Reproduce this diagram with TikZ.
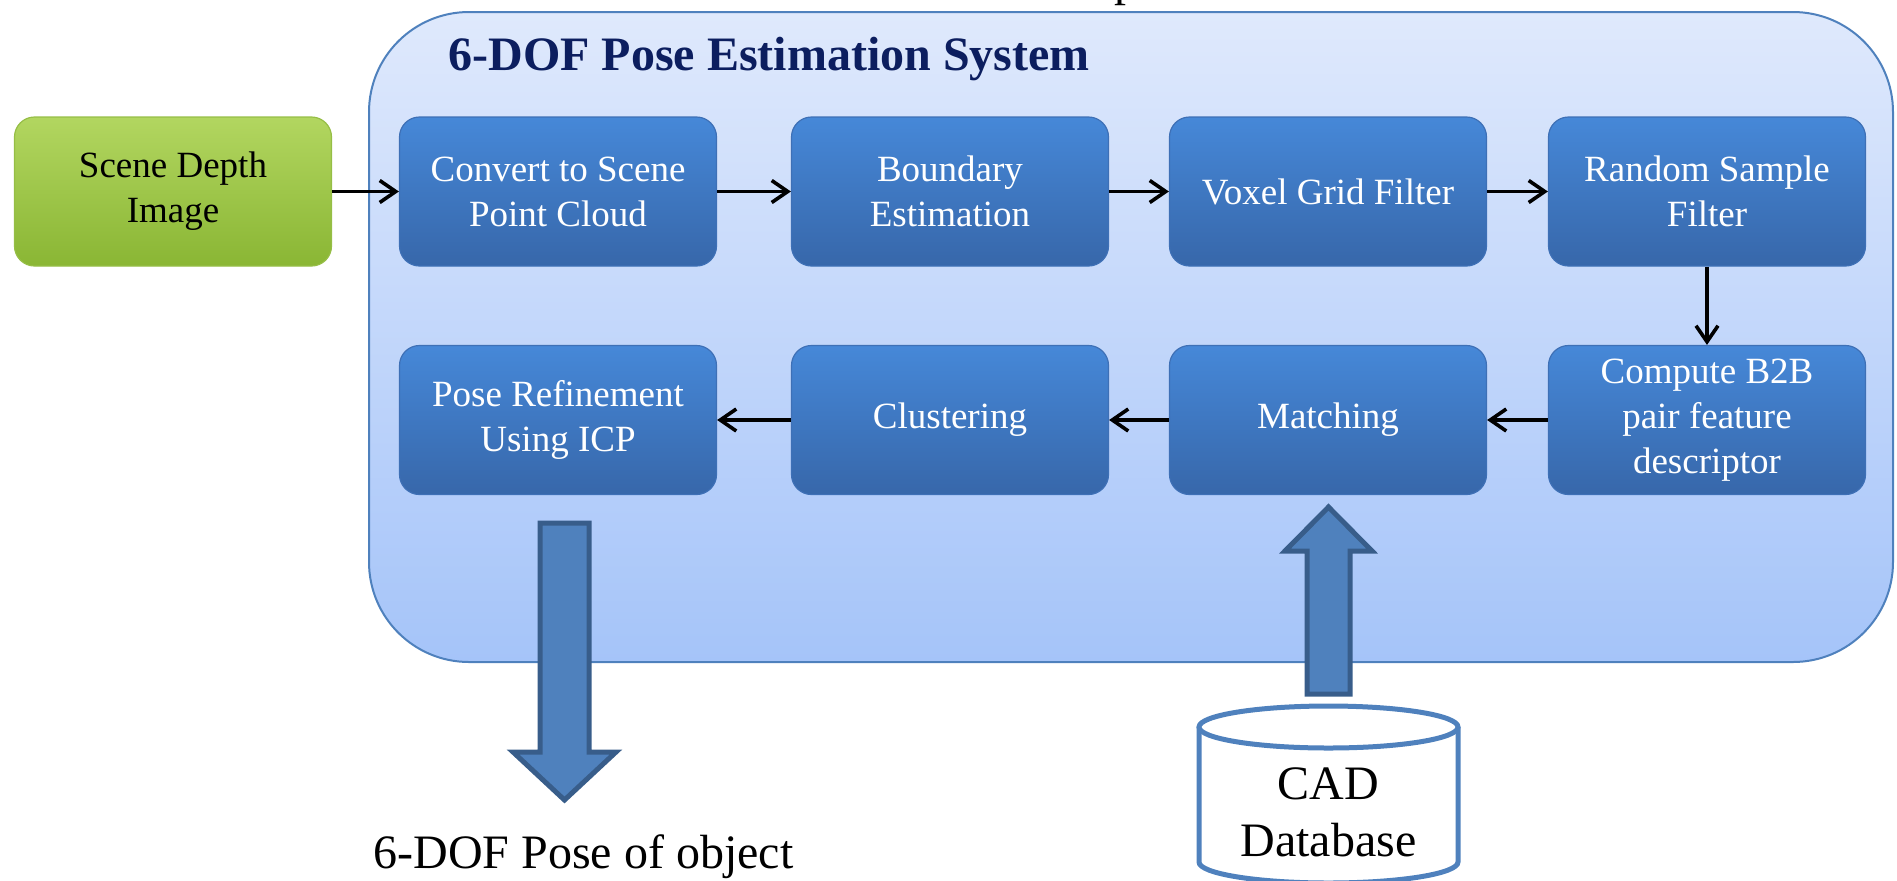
\documentclass[tikz,border=0pt]{standalone}
\usepackage{fontspec}
\setmainfont{Liberation Serif}
\usetikzlibrary{arrows.meta,calc}

\definecolor{panelTop}{RGB}{223,233,252}
\definecolor{panelBot}{RGB}{165,196,249}
\definecolor{panelEdge}{RGB}{79,129,189}
\definecolor{titleBlue}{RGB}{12,30,95}
\definecolor{boxTop}{RGB}{70,136,216}
\definecolor{boxBot}{RGB}{55,103,170}
\definecolor{boxEdge}{RGB}{62,112,182}
\definecolor{greenTop}{RGB}{178,214,96}
\definecolor{greenBot}{RGB}{138,182,52}
\definecolor{greenEdge}{RGB}{150,190,70}
\definecolor{bigArrow}{RGB}{79,129,189}
\definecolor{bigArrowEdge}{RGB}{56,93,138}

\begin{document}
\begin{tikzpicture}[x=0.5pt, y=-0.5pt,
  stepbox/.style={rounded corners=10pt, minimum width=158.5pt, minimum height=74.5pt,
    top color=boxTop, bottom color=boxBot, draw=boxEdge, line width=0.6pt,
    text=white, align=center, inner sep=0pt, font=\fontsize{18.5}{22.5}\selectfont},
  inputbox/.style={stepbox, top color=greenTop, bottom color=greenBot, draw=greenEdge, text=black},
  flow/.style={line width=1.8pt, -{Straight Barb[length=8pt, width=11pt, line width=1.8pt]}},
  blockarr/.style={fill=bigArrow, draw=bigArrowEdge, line width=2.5pt, line join=miter},
  bigtext/.style={font=\fontsize{24}{28.5}\selectfont, inner sep=0pt}
]
\useasboundingbox (0,0) rectangle (1897,880);

% line of text above the panel, mostly outside the page
\node[bigtext, anchor=base west] (toptext) at (1114,-4.5) {p};

% system panel
\draw[rounded corners=50pt, top color=panelTop, bottom color=panelBot, draw=panelEdge, line width=1pt]
  (369,12) rectangle (1893,662);
\node[anchor=base west, inner sep=0pt, text=titleBlue, font=\bfseries\fontsize{24}{28}\selectfont]
  (title) at (448,70) {6-DOF Pose Estimation System};

% processing steps
\node[inputbox] (scene)    at (173,191.5)  {Scene Depth\\Image};
\node[stepbox]  (convert)  at (558,191.5)  {Convert to Scene\\Point Cloud};
\node[stepbox]  (boundary) at (950,191.5)  {Boundary\\Estimation};
\node[stepbox]  (voxel)    at (1328,191.5) {Voxel Grid Filter};
\node[stepbox]  (random)   at (1707,191.5) {Random Sample\\Filter};
\node[stepbox]  (compute)  at (1707,420)   {Compute B2B\\pair feature\\descriptor};
\node[stepbox]  (matching) at (1328,420)   {Matching};
\node[stepbox]  (cluster)  at (950,420)    {Clustering};
\node[stepbox]  (refine)   at (558,420)    {Pose Refinement\\Using ICP};

\draw[flow] (scene) -- (convert);
\draw[flow] (convert) -- (boundary);
\draw[flow] (boundary) -- (voxel);
\draw[flow] (voxel) -- (random);
\draw[flow] (random) -- (compute);
\draw[flow] (compute) -- (matching);
\draw[flow] (matching) -- (cluster);
\draw[flow] (cluster) -- (refine);

% output block arrow
\draw[blockarr] (540,523) -- (589,523) -- (589,752) -- (616,752) -- (564.5,800)
  -- (513,752) -- (540,752) -- cycle;
\node[bigtext, anchor=base west] (output) at (373,868) {6-DOF Pose of object};

% database cylinder and its block arrow
\draw[blockarr] (1307,694) -- (1350,694) -- (1350,551) -- (1372,551) -- (1328.5,507)
  -- (1285,551) -- (1307,551) -- cycle;
\fill[white] (1199,727) -- (1199,862) arc[start angle=180, end angle=360, x radius=64.75pt, y radius=10.5pt]
  -- (1458,727) -- cycle;
\draw[panelEdge, line width=2.5pt] (1199,727) -- (1199,862)
  arc[start angle=180, end angle=360, x radius=64.75pt, y radius=10.5pt] -- (1458,727);
\draw[panelEdge, line width=2.5pt, fill=white] (1328.5,727) ellipse [x radius=64.75pt, y radius=10.5pt];
\node[bigtext, align=center] (cad) at (1328.5,812) {CAD\\Database};
\end{tikzpicture}
\end{document}
